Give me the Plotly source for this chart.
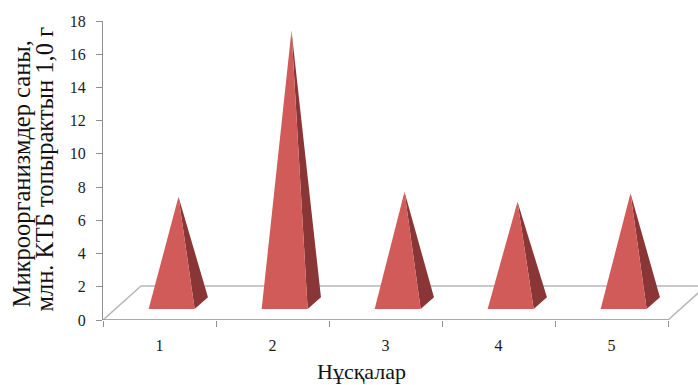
import plotly.graph_objects as go

# ---- data ----
categories = ["1", "2", "3", "4", "5"]
values = [6.4, 16.4, 6.7, 6.1, 6.6]
y_ticks = [0, 2, 4, 6, 8, 10, 12, 14, 16, 18]
y_title_1 = "Микроорганизмдер саны,"
y_title_2 = "млн. КТБ топырактын 1,0 г"
x_title = "Нұсқалар"

# ---- style / projection constants ----
W, H = 698, 385
ML, MR, MT, MB = 103, 0, 21, 65
PX_PER_CAT = 113.0
PX_PER_UNIT = (H - MT - MB) / 18.0
DX = 38 / PX_PER_CAT          # x shift per unit depth (category units)
DY = 34 / PX_PER_UNIT         # y shift per unit depth (value units)
Z0, Z1, ZC = 0.32, 0.67, 0.5  # pyramid base depth range
HW = 23 / PX_PER_CAT          # half width of pyramid base
FRONT = "#d15b58"
SIDE = "#8a3636"
FLOOR = "#b9b9b9"
AXIS = "#8f8f8f"
FONT = "Liberation Serif"

n = len(categories)
xpos = list(range(1, n + 1))
x_lo, x_hi = 0.5, n + 0.5

fig = go.Figure()

# floor (back/side edges)
fig.add_trace(go.Scatter(
    x=[x_lo, x_lo + DX, x_hi + DX + 1, None, x_hi, x_hi + DX],
    y=[0, DY, DY, None, 0, DY],
    mode="lines", line=dict(color=FLOOR, width=1.6),
    hoverinfo="skip", showlegend=False, cliponaxis=False))

# pyramids
for xc, v in zip(xpos, values):
    fl = (xc + Z0 * DX - HW, Z0 * DY)
    fr = (xc + Z0 * DX + HW, Z0 * DY)
    br = (xc + Z1 * DX + HW, Z1 * DY)
    ap = (xc + ZC * DX, ZC * DY + v)
    fig.add_trace(go.Scatter(
        x=[fr[0], br[0], ap[0], fr[0]], y=[fr[1], br[1], ap[1], fr[1]],
        mode="lines", fill="toself", fillcolor=SIDE, line=dict(width=0, color=SIDE),
        hoverinfo="skip", showlegend=False))
    fig.add_trace(go.Scatter(
        x=[fl[0], fr[0], ap[0], fl[0]], y=[fl[1], fr[1], ap[1], fl[1]],
        mode="lines", fill="toself", fillcolor=FRONT, line=dict(width=0, color=FRONT),
        hoverinfo="skip", showlegend=False))

# front axis line
fig.add_trace(go.Scatter(
    x=[x_lo, x_hi], y=[0, 0], mode="lines", line=dict(color=AXIS, width=1.3),
    hoverinfo="skip", showlegend=False, cliponaxis=False))

fig.update_layout(
    width=W, height=H,
    margin=dict(l=ML, r=MR, t=MT, b=MB),
    paper_bgcolor="white", plot_bgcolor="white",
    font=dict(family=FONT, color="#1a1a1a"),
    xaxis=dict(
        range=[x_lo, x_lo + (W - ML - MR) / PX_PER_CAT],
        tickmode="array", tickvals=xpos, ticktext=categories,
        ticks="", showline=False, showgrid=False, zeroline=False,
        tickfont=dict(size=16, family=FONT, color="#1a1a1a"),
        ticklabelstandoff=14,
        minor=dict(tickmode="array", tickvals=[x - 0.5 for x in xpos] + [x_hi],
                   ticks="outside", ticklen=6, tickcolor=AXIS, tickwidth=1.2,
                   showgrid=False),
    ),
    yaxis=dict(
        range=[0, 18], tickmode="array", tickvals=y_ticks,
        ticks="outside", ticklen=6, tickcolor=AXIS, tickwidth=1.2,
        showline=True, linecolor=AXIS, linewidth=1.3,
        showgrid=False, zeroline=False,
        tickfont=dict(size=16, family=FONT, color="#1a1a1a"),
        ticklabelstandoff=7,
    ),
    annotations=[
        dict(text=y_title_1, xref="paper", yref="paper", x=0, y=0.487,
             xshift=21 - ML, xanchor="center", yanchor="middle", textangle=-90,
             showarrow=False, font=dict(size=24.5, family=FONT, color="#111")),
        dict(text=y_title_2, xref="paper", yref="paper", x=0, y=0.503,
             xshift=45 - ML, xanchor="center", yanchor="middle", textangle=-90,
             showarrow=False, font=dict(size=24.5, family=FONT, color="#111")),
        dict(text=x_title, xref="paper", yref="paper", x=(361 - ML) / (W - ML - MR),
             y=(320 - 371) / (H - MT - MB), xanchor="center", yanchor="middle",
             showarrow=False, font=dict(size=22, family=FONT, color="#111")),
    ],
)

fig.write_html("out.html")
